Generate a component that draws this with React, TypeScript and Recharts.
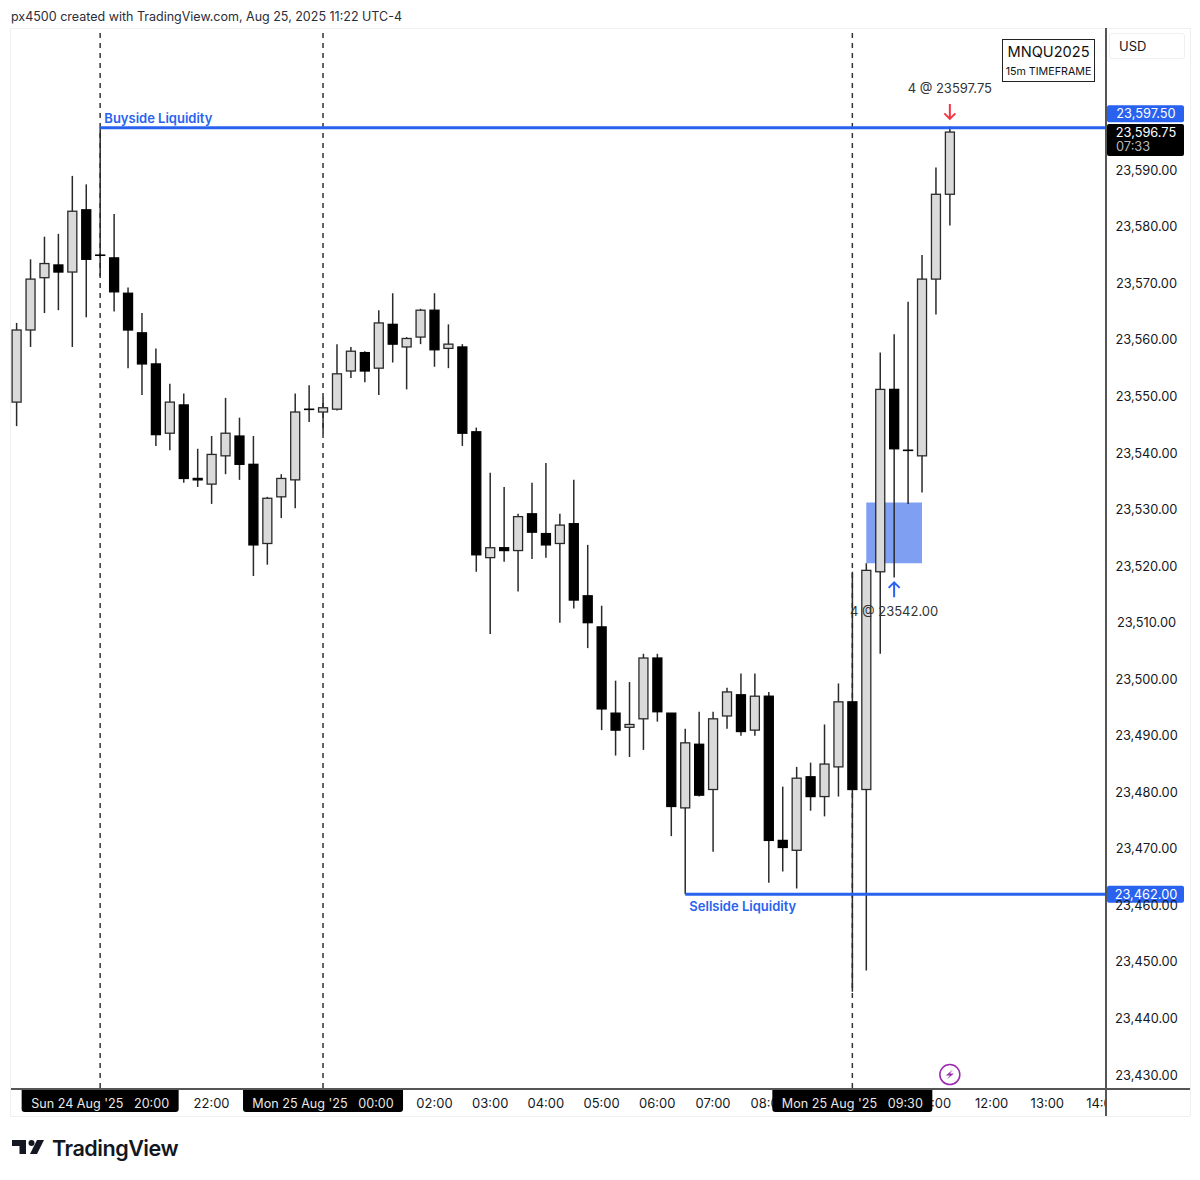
import React from "react";
import {
  ComposedChart,
  Bar,
  XAxis,
  YAxis,
  ReferenceLine,
  ReferenceArea,
  ReferenceDot,
} from "recharts";

// 15m candles of MNQU2025.
const opens = [
  23549, 23561.75, 23571, 23573.25, 23572, 23583, 23575, 23574.5, 23568.25, 23561.25,
  23555.75, 23543.5, 23548.5, 23535.5, 23534.5, 23539.5, 23543, 23538, 23524, 23532.25,
  23535.25, 23547.75, 23547.25, 23547.75, 23554.5, 23557.75, 23555, 23562.75, 23558.75, 23560.5,
  23565.25, 23558.5, 23558.75, 23543.75, 23521.5, 23523.25, 23522.75, 23529.25, 23525.75, 23524,
  23527.5, 23514.75, 23509.25, 23494, 23491.5, 23493, 23503.75, 23494, 23477.25, 23488.5,
  23480.5, 23493.5, 23497.25, 23491, 23497, 23471.5, 23469.75, 23482.75, 23479.25, 23484.5,
  23496, 23480.5, 23519, 23551.25, 23540.5, 23539.5, 23570.75, 23585.75,
];
const highs = [
  23563, 23574.25, 23578.25, 23578.75, 23589, 23587.5, 23597.5, 23582.25, 23569.25, 23564.75,
  23558.5, 23552.25, 23550.5, 23540.75, 23543, 23549.75, 23546.25, 23543, 23532.25, 23536.25,
  23550.5, 23552, 23549.75, 23559.25, 23558.75, 23558, 23565.25, 23568.25, 23560.5, 23565.5,
  23568.25, 23562.75, 23559.25, 23544.5, 23536.5, 23534, 23529.25, 23534.75, 23538.25, 23529.25,
  23535.25, 23523.75, 23513, 23499.75, 23499.5, 23504.5, 23504.5, 23494, 23491.25, 23494.25,
  23494.25, 23498.5, 23501, 23501, 23497.75, 23481, 23484.5, 23485.25, 23492, 23499.25,
  23519, 23520.5, 23557.75, 23561, 23566.75, 23575, 23590.5, 23597.75,
];
const lows = [
  23544.75, 23558.75, 23564.75, 23565.25, 23558.75, 23564, 23571.25, 23565, 23555, 23550.25,
  23541.25, 23540.5, 23534.75, 23534, 23531, 23536.25, 23535.25, 23518.25, 23520.25, 23528.5,
  23530.25, 23545.5, 23543.5, 23547.5, 23553.25, 23552.5, 23550.25, 23556, 23551.25, 23559.25,
  23555.25, 23555, 23541.25, 23519, 23508, 23520.75, 23515.5, 23521.25, 23521.5, 23510,
  23512.5, 23505.5, 23491, 23486.5, 23486.25, 23487.5, 23492.5, 23472.25, 23462, 23479.25,
  23469.5, 23491.25, 23490, 23490, 23464, 23466, 23463, 23476.75, 23475.75, 23479.25,
  23444.75, 23448.5, 23504.5, 23518, 23531, 23533, 23564.5, 23580.25,
];
const closes = [
  23561.75, 23570.75, 23573.5, 23572, 23582.75, 23574.25, 23575, 23568.5, 23561.75, 23555.75,
  23543.25, 23549, 23535.5, 23535.25, 23539.75, 23543.5, 23538, 23523.75, 23532, 23535.5,
  23547.25, 23547.75, 23548, 23554, 23558, 23554.5, 23563, 23559.25, 23560.25, 23565.25,
  23558.25, 23559.25, 23543.5, 23522, 23523.25, 23522.75, 23528.75, 23526, 23523.75, 23527.25,
  23514, 23510, 23494.75, 23491, 23492, 23503.75, 23494.25, 23477.5, 23488.75, 23479.5,
  23493, 23497.75, 23490.75, 23497, 23471.5, 23470.25, 23482.5, 23479.25, 23485, 23496,
  23480.5, 23519.25, 23551.25, 23540.75, 23540.5, 23570.75, 23585.75, 23596.75,
];

const priceTicks = [
  23430, 23440, 23450, 23460, 23470, 23480, 23490, 23500, 23510, 23520, 23530, 23540, 23550,
  23560, 23570, 23580, 23590,
];
// bar index -> label; plain ones first so the black date tags paint over them
const timeTicks = [14, 30, 34, 38, 42, 46, 50, 54, 66, 70, 74, 78, 6, 22, 60];
const timeLabels: Record<number, string> = {
  14: "22:00",
  30: "02:00",
  34: "03:00",
  38: "04:00",
  42: "05:00",
  46: "06:00",
  50: "07:00",
  54: "08:00",
  66: "11:00",
  70: "12:00",
  74: "13:00",
  78: "14:00",
  6: "Sun 24 Aug '25\u00a0\u00a0\u00a020:00",
  22: "Mon 25 Aug '25\u00a0\u00a0\u00a000:00",
  60: "Mon 25 Aug '25\u00a0\u00a0\u00a009:30",
};
const sessionBars = [6, 22, 60];

const buysidePrice = 23597.5;
const sellsidePrice = 23462;
const lastPrice = 23596.75;
const countdown = "07:33";

const table = opens.map((open, i) => ({
  i,
  open,
  high: highs[i],
  low: lows[i],
  close: closes[i],
  range: [lows[i], highs[i]],
}));

const FONT = "Inter, 'Liberation Sans', sans-serif";
const INK = "#131722";
const BLUE = "#2962ee";

function Candle(props: any) {
  const { x, y, width, height, payload } = props;
  const { open, close, high, low } = payload;
  const up = close >= open && close !== open;
  const perPoint = height / (high - low);
  const top = y + (high - Math.max(open, close)) * perPoint;
  const bottom = y + (high - Math.min(open, close)) * perPoint;
  const cx = x + width / 2;
  return (
    <g>
      <line x1={cx} x2={cx} y1={y} y2={y + height} stroke="#2a2a2a" strokeWidth={1.5} />
      <rect
        x={x + 0.5}
        y={top}
        width={width - 1}
        height={Math.max(bottom - top, 0.3)}
        fill={up ? "#dadada" : "#000000"}
        stroke={up ? "#2a2a2a" : "#000000"}
        strokeWidth={1.3}
      />
    </g>
  );
}

function TimeTick(props: any) {
  const { x, payload } = props;
  const value = payload.value;
  const session = sessionBars.includes(value);
  if (session) {
    const w = value === 6 ? 157 : 160;
    return (
      <g>
        <path
          d={`M${x - w / 2} 1089h${w}v20a3 3 0 0 1 -3 3h${-w + 6}a3 3 0 0 1 -3 -3z`}
          fill="#000000"
        />
        <text x={x} y={1107.5} textAnchor="middle" fontFamily={FONT} fontSize={12.6} fill="#e8e8e8">
          {timeLabels[value]}
        </text>
      </g>
    );
  }
  return (
    <text x={x} y={1107.5} textAnchor="middle" fontFamily={FONT} fontSize={13} fill={INK}>
      {timeLabels[value]}
    </text>
  );
}

function PriceTick(props: any) {
  const { y, payload } = props;
  const label = payload.value.toLocaleString("en-US", {
    minimumFractionDigits: 2,
    maximumFractionDigits: 2,
  });
  return (
    <text x={1146.5} y={y + 4.5} textAnchor="middle" fontFamily={FONT} fontSize={12.8} fill={INK}>
      {label}
    </text>
  );
}

// Price tags pinned to the right scale. TradingView nudges the buyside tag up out of the way.
function PriceTag({ cy, label, bg, nudge = 0 }: any) {
  const y = cy + nudge;
  return (
    <g>
      <rect x={1107} y={y - 8.5} width={77} height={17} rx={2} fill={bg} />
      <text x={1146} y={y + 4.5} textAnchor="middle" fontFamily={FONT} fontSize={12.8} fill="#ffffff">
        {label}
      </text>
    </g>
  );
}

function LastTag({ cy }: any) {
  return (
    <g>
      <rect x={1107} y={cy - 8} width={77} height={32} rx={2} fill="#000000" />
      <text x={1146} y={cy + 5} textAnchor="middle" fontFamily={FONT} fontSize={12.8} fill="#ffffff">
        {lastPrice.toLocaleString("en-US", { minimumFractionDigits: 2 })}
      </text>
      <text x={1116} y={cy + 19} fontFamily={FONT} fontSize={12.8} fill="#b8b8b8">
        {countdown}
      </text>
    </g>
  );
}

function Note({ cx, cy, text, color = "#333333", weight = 400, anchor = "middle", size = 13 }: any) {
  return (
    <text x={cx} y={cy} textAnchor={anchor} fontFamily={FONT} fontSize={size} fontWeight={weight} fill={color}>
      {text}
    </text>
  );
}

function Arrow({ cx, cy, color, down }: any) {
  const dir = down ? 1 : -1;
  return (
    <path
      d={`M${cx} ${cy - 7.5 * dir}V${cy + 7.5 * dir}M${cx - 5.5} ${cy + 2 * dir}L${cx} ${cy + 7.5 * dir}L${cx + 5.5} ${cy + 2 * dir}`}
      stroke={color}
      strokeWidth={2}
      fill="none"
    />
  );
}

function Bolt({ cx, cy }: any) {
  return (
    <g>
      <circle cx={cx} cy={cy} r={10} fill="#ffffff" stroke="#9c27b0" strokeWidth={1.5} />
      <path
        d={`M${cx + 3} ${cy - 5}L${cx - 4} ${cy + 1}H${cx}L${cx - 3} ${cy + 5}L${cx + 4} ${cy - 1}H${cx}Z`}
        fill="#9c27b0"
      />
    </g>
  );
}

function Logo() {
  return (
    <div style={{ position: "absolute", left: 12, top: 1136, display: "flex", alignItems: "center" }}>
      <svg width={32} height={24} viewBox="0 0 32 24">
        <path d="M0 4h14v14H7.500V10H0z" fill="#131722" />
        <circle cx={19.500} cy={7} r={3} fill="#131722" />
        <path d="M25 4h7l-7 14h-7z" fill="#131722" />
      </svg>
      <span
        style={{
          fontFamily: FONT,
          fontSize: 21.6,
          fontWeight: 600,
          letterSpacing: -0.5,
          color: INK,
          marginLeft: 8,
          lineHeight: "24px",
        }}
      >
        TradingView
      </span>
    </div>
  );
}

const line = (left: number, top: number, width: number, height: number, background: string) => (
  <div style={{ position: "absolute", left, top, width, height, background }} />
);

export default function App() {
  return (
    <div style={{ position: "absolute", left: 0, top: 0, width: 1200, height: 1180, background: "#fff", overflow: "hidden" }}>
      <div style={{ position: "absolute", left: 11, top: 9, fontFamily: FONT, fontSize: 12.5, color: "#2a2e39", lineHeight: "15px" }}>
        px4500 created with TradingView.com, Aug 25, 2025 11:22 UTC-4
      </div>

      {line(10, 28, 1180, 1, "#f0f0f0")}
      {line(10, 28, 1, 1088, "#f0f0f0")}
      {line(1190, 28, 1, 1088, "#f0f0f0")}
      {line(10, 1116, 1180, 1, "#f0f0f0")}

      <ComposedChart
        width={1200}
        height={1180}
        data={table}
        margin={{ top: 28, left: 11, right: 10, bottom: 64 }}
        style={{ position: "absolute", left: 0, top: 0 }}
      >
        <XAxis
          type="number"
          dataKey="i"
          domain={[-0.4, 78.21]}
          allowDataOverflow
          ticks={timeTicks}
          interval={0}
          height={28}
          axisLine={false}
          tickLine={false}
          tick={TimeTick}
        />
        <YAxis
          orientation="right"
          domain={[23427.72, 23615.15]}
          allowDataOverflow
          ticks={priceTicks}
          interval={0}
          width={84}
          axisLine={false}
          tickLine={false}
          tick={PriceTick}
        />
        <ReferenceArea x1={61} x2={65} y1={23520.5} y2={23531.25} fill="#7f9ff2" fillOpacity={1} stroke="none" />
        {sessionBars.map((b) => (
          <ReferenceLine key={b} x={b} stroke="#333333" strokeWidth={1.5} strokeDasharray="5 5" zIndex={100} />
        ))}
        <Bar dataKey="range" barSize={10} shape={Candle} isAnimationActive={false} />
        <ReferenceLine
          segment={[{ x: 6, y: buysidePrice }, { x: 78.21, y: buysidePrice }]}
          stroke={BLUE}
          strokeWidth={3}
        />
        <ReferenceLine
          segment={[{ x: 48, y: sellsidePrice }, { x: 78.21, y: sellsidePrice }]}
          stroke={BLUE}
          strokeWidth={3}
        />
        <ReferenceDot x={6.3} y={23598.4} shape={(p: any) => <Note {...p} text="Buyside Liquidity" color={BLUE} weight={600} anchor="start" />} />
        <ReferenceDot x={48.3} y={23459} shape={(p: any) => <Note {...p} text="Sellside Liquidity" color={BLUE} weight={600} anchor="start" />} />
        <ReferenceDot x={67} y={23603.6} shape={(p: any) => <Note {...p} text="4 @ 23597.75" />} />
        <ReferenceDot x={63} y={23511.1} shape={(p: any) => <Note {...p} text="4 @ 23542.00" />} />
        <ReferenceDot x={67} y={23600.4} shape={(p: any) => <Arrow {...p} color="#f23645" down />} />
        <ReferenceDot x={63} y={23515.8} shape={(p: any) => <Arrow {...p} color={BLUE} />} />
        <ReferenceDot x={67} y={23430.1} shape={(p: any) => <Bolt {...p} />} />
        <ReferenceDot x={78.21} y={buysidePrice} shape={(p: any) => <PriceTag {...p} label="23,597.50" bg={BLUE} nudge={-14} />} />
        <ReferenceDot x={78.21} y={lastPrice} shape={(p: any) => <LastTag {...p} />} />
        <ReferenceDot x={78.21} y={sellsidePrice} shape={(p: any) => <PriceTag {...p} label="23,462.00" bg={BLUE} />} />
      </ComposedChart>

      {line(1107, 1089, 83, 27, "#ffffff")}
      {line(11, 1088, 1179, 1.5, "#555555")}
      {line(1105, 28, 1.5, 1088, "#555555")}

      <div style={{ position: "absolute", left: 1109, top: 33, width: 76, height: 26, border: "1px solid #f0f0f0", borderRadius: 3, boxSizing: "border-box" }} />
      <div style={{ position: "absolute", left: 1119, top: 38, fontFamily: FONT, fontSize: 13, color: INK, lineHeight: "16px" }}>USD</div>

      <div
        style={{
          position: "absolute",
          left: 1002,
          top: 39,
          width: 93,
          height: 43,
          boxSizing: "border-box",
          border: "1.5px solid #222",
          textAlign: "center",
          fontFamily: FONT,
          color: "#111",
        }}
      >
        <div style={{ fontSize: 14.6, lineHeight: "19px", marginTop: 3 }}>MNQU2025</div>
        <div style={{ fontSize: 10.7, lineHeight: "14px", marginTop: 3 }}>15m TIMEFRAME</div>
      </div>

      <Logo />
    </div>
  );
}
